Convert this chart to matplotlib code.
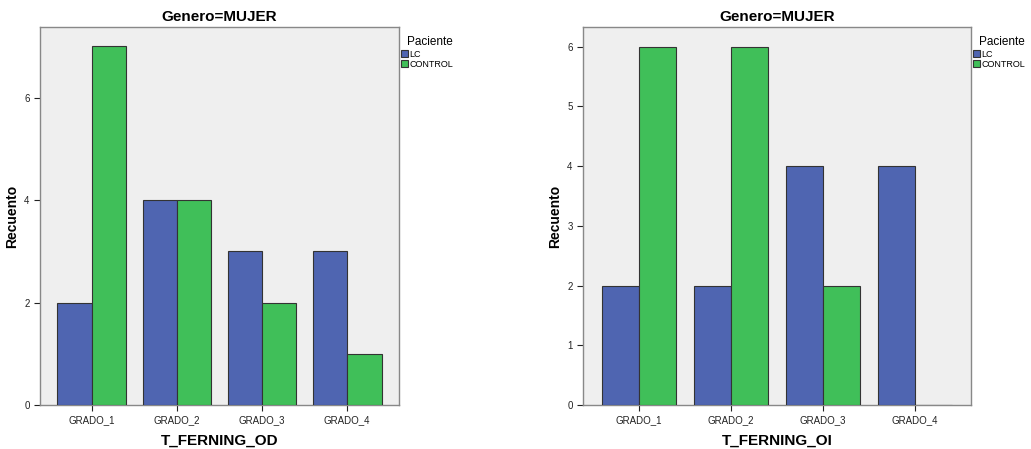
import matplotlib
matplotlib.use('Agg')
import matplotlib.pyplot as plt
import numpy as np

plt.rcParams['font.family'] = ['Liberation Sans', 'DejaVu Sans']

grados = ['GRADO_1', 'GRADO_2', 'GRADO_3', 'GRADO_4']
od_lc = [2, 4, 3, 3]
od_control = [7, 4, 2, 1]
oi_lc = [2, 2, 4, 4]
oi_control = [6, 6, 2, 0]

azul = '#4f65b1'
verde = '#40bf59'

fig = plt.figure(figsize=(10.31, 4.49), dpi=100)
ax1 = fig.add_axes([40/1031, 1-405/449, 359/1031, 378/449])
ax2 = fig.add_axes([583/1031, 1-405/449, 388/1031, 378/449])

def dibujar(ax, lc, control, xlabel, ymax, yticks):
    x = np.arange(len(grados))
    w = 0.405
    ax.bar(x - w/2, lc, width=w, color=azul, edgecolor='#333333', linewidth=0.8, label='LC', zorder=3)
    ax.bar(x + w/2, control, width=w, color=verde, edgecolor='#333333', linewidth=0.8, label='CONTROL', zorder=3)
    ax.set_xlim(-0.61, 3.61)
    ax.set_ylim(0, ymax)
    ax.set_facecolor('#efefef')
    ax.set_xticks(x)
    ax.set_xticklabels(grados)
    ax.set_yticks(yticks)
    ax.tick_params(axis='both', labelsize=7, colors='#222222', length=4, width=0.8)
    for s in ax.spines.values():
        s.set_color('#888888')
        s.set_linewidth(1.0)
    ax.set_title('Genero=MUJER', fontsize=11, fontweight='bold', pad=4)
    ax.set_xlabel(xlabel, fontsize=11, fontweight='bold', labelpad=6)
    ax.set_ylabel('Recuento', fontsize=10, fontweight='bold')
    ax.yaxis.set_label_coords(-0.058 * 359 / ax.get_position().width / 1031, 0.5)
    leg = ax.legend(loc='upper left', bbox_to_anchor=(1.0, 0.98), frameon=False,
                    title='Paciente', fontsize=6.5, title_fontsize=8.5,
                    handlelength=0.8, handleheight=0.8, handletextpad=0.15,
                    labelspacing=0.15, borderaxespad=0.1, borderpad=0.1)
    leg._legend_box.align = 'left'
    leg.get_title().set_position((6, 0))

dibujar(ax1, od_lc, od_control, 'T_FERNING_OD', 7.38, [0, 2, 4, 6])
dibujar(ax2, oi_lc, oi_control, 'T_FERNING_OI', 6.33, [0, 1, 2, 3, 4, 5, 6])

plt.savefig('out.png', dpi=100)
